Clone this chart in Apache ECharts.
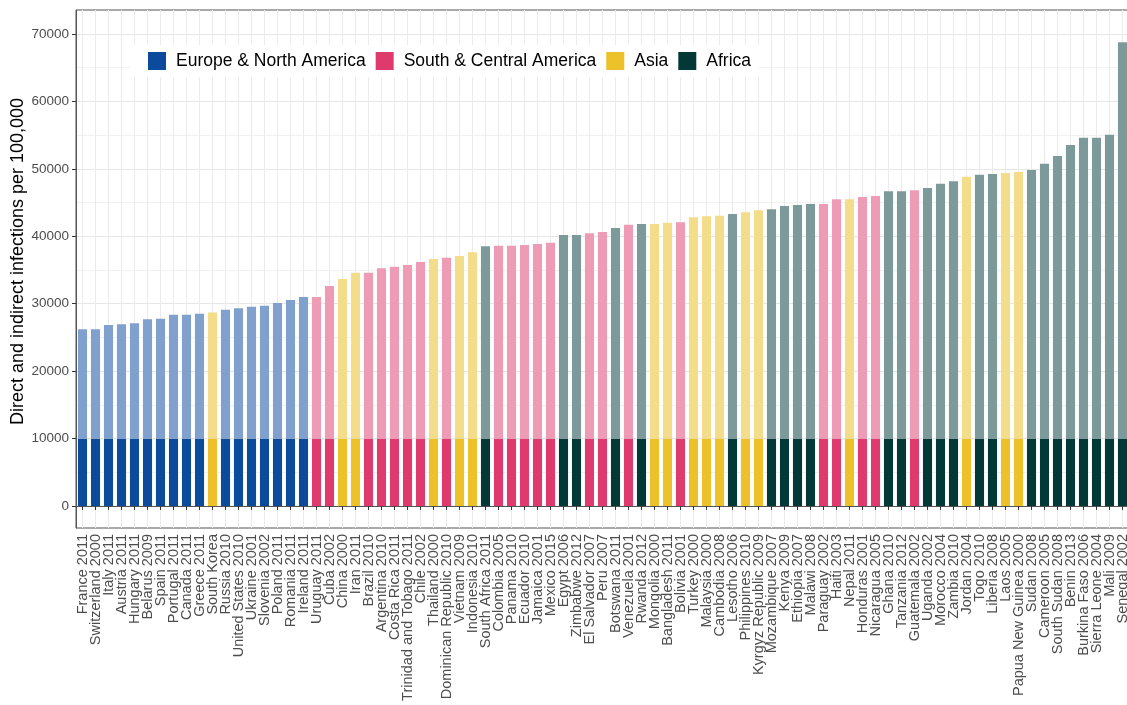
<!DOCTYPE html>
<html>
<head>
<meta charset="utf-8">
<script src="https://cdn.jsdelivr.net/npm/echarts@6/dist/echarts.min.js"></script>
<style>
  html, body { margin: 0; padding: 0; background: #fff; }
  #chart { width: 1127px; height: 705px; }
</style>
</head>
<body>
<div id="chart"></div>
<script>
const categories = [
  "France 2011","Switzerland 2000","Italy 2011","Austria 2011","Hungary 2011","Belarus 2009",
  "Spain 2011","Portugal 2011","Canada 2011","Greece 2011","South Korea","Russia 2010",
  "United States 2010","Ukraine 2001","Slovenia 2002","Poland 2011","Romania 2011","Ireland 2011",
  "Uruguay 2011","Cuba 2002","China 2000","Iran 2011","Brazil 2010","Argentina 2010",
  "Costa Rica 2011","Trinidad and Tobago 2011","Chile 2002","Thailand 2000","Dominican Republic 2010","Vietnam 2009",
  "Indonesia 2010","South Africa 2011","Colombia 2005","Panama 2010","Ecuador 2010","Jamaica 2001",
  "Mexico 2015","Egypt 2006","Zimbabwe 2012","El Salvador 2007","Peru 2007","Botswana 2011",
  "Venezuela 2001","Rwanda 2012","Mongolia 2000","Bangladesh 2011","Bolivia 2001","Turkey 2000",
  "Malaysia 2000","Cambodia 2008","Lesotho 2006","Philippines 2010","Kyrgyz Republic 2009","Mozambique 2007",
  "Kenya 2009","Ethiopia 2007","Malawi 2008","Paraguay 2002","Haiti 2003","Nepal 2011",
  "Honduras 2001","Nicaragua 2005","Ghana 2010","Tanzania 2012","Guatemala 2002","Uganda 2002",
  "Morocco 2004","Zambia 2010","Jordan 2004","Togo 2010","Liberia 2008","Laos 2005",
  "Papua New Guinea 2000","Sudan 2008","Cameroon 2005","South Sudan 2008","Benin 2013","Burkina Faso 2006",
  "Sierra Leone 2004","Mali 2009","Senegal 2002"
];
// E = Europe & North America, S = South & Central America, A = Asia, F = Africa
const regionCodes = [
  "E","E","E","E","E","E","E","E","E","E","A","E",
  "E","E","E","E","E","E","S","S","A","A","S","S",
  "S","S","S","A","S","A","A","F","S","S","S","S",
  "S","F","F","S","S","F","S","F","A","A","S","A",
  "A","A","F","A","A","F","F","F","F","S","S","A",
  "S","S","F","F","S","F","F","F","A","F","F","A",
  "A","F","F","F","F","F","F","F","F"
];
const totalInfections = [
  26200,26200,26840,26940,27090,27680,27780,28380,28380,28530,28680,29120,
  29310,29560,29710,30110,30550,31000,31000,32630,33660,34600,34600,35250,
  35500,35740,36190,36630,36830,37080,37620,38510,38610,38610,38710,38860,
  39050,40190,40190,40440,40640,41230,41720,41820,41820,42020,42070,42810,
  42960,43060,43300,43550,43850,44000,44490,44640,44790,44790,45480,45480,
  45830,45970,46670,46670,46820,47160,47800,48150,48840,49140,49240,49390,
  49530,49830,50760,51900,53540,54630,54630,55070,68770
];
const directInfections = 10000;
const regionKeys = ["E","S","A","F"];
const regionNames = ["Europe & North America","South & Central America","Asia","Africa"];
const yTickValues = [0,10000,20000,30000,40000,50000,60000,70000];
const yMinorValues = [5000,15000,25000,35000,45000,55000,65000];

const darkColors = { E: "#0C4A9C", S: "#DE3A6D", A: "#EDC12A", F: "#023836" };
const lightColors = { E: "#80A1CE", S: "#EE9BB5", A: "#F3DC8A", F: "#7D9A9B" };

const font = "'Liberation Sans', Arial, sans-serif";
const series = [];
regionKeys.forEach((k, ri) => {
  series.push({
    name: regionNames[ri], type: "bar", stack: "total", xAxisIndex: 0, yAxisIndex: 0,
    barWidth: "70%",
    itemStyle: { color: darkColors[k] },
    data: categories.map((c, i) => regionCodes[i] === k ? directInfections : null)
  });
});
regionKeys.forEach((k, ri) => {
  series.push({
    name: regionNames[ri], type: "bar", stack: "total", xAxisIndex: 0, yAxisIndex: 0,
    barWidth: "70%",
    itemStyle: { color: lightColors[k] },
    data: categories.map((c, i) => regionCodes[i] === k ? totalInfections[i] - directInfections : null)
  });
});

const centers = categories.map((c, i) => i + 0.5);
const chart = echarts.init(document.getElementById("chart"), null, { renderer: "canvas" });
chart.setOption({
  animation: false,
  backgroundColor: "#fff",
  textStyle: { fontFamily: font },
  grid: { left: 76, top: 10, width: 1053, height: 518, show: true, borderColor: "#555", borderWidth: 1,
          backgroundColor: "transparent", containLabel: false, outerBoundsMode: "none" },
  legend: {
    data: regionNames,
    left: 131, top: 45,
    orient: "horizontal",
    backgroundColor: "#fff",
    padding: [7, 8, 7, 17],
    itemWidth: 18, itemHeight: 18, itemGap: 10,
    icon: "rect",
    selectedMode: false,
    textStyle: { fontSize: 17.5, color: "#000", fontFamily: font, padding: [2, 0, 0, 5] }
  },
  xAxis: [
    {
      type: "category", data: categories, boundaryGap: true, gridIndex: 0,
      axisLine: { show: true, lineStyle: { color: "#555", width: 1 } },
      axisTick: { show: true, alignWithLabel: true, interval: 0, length: 4, lineStyle: { color: "#333" } },
      axisLabel: { interval: 0, rotate: 90, margin: 6, fontSize: 14.5, color: "#4D4D4D", fontFamily: font },
      splitLine: { show: false }
    },
    {
      type: "value", min: 0, max: categories.length, gridIndex: 0, position: "top",
      axisLine: { show: false },
      axisLabel: { show: false },
      axisTick: { show: false, customValues: centers },
      splitLine: { show: true, lineStyle: { color: "#EBEBEB", width: 1 } }
    }
  ],
  yAxis: [
    {
      type: "value", min: -3263, max: 73560, gridIndex: 0,
      name: "Direct and indirect infections per 100,000",
      nameLocation: "middle", nameGap: 49, nameMoveOverlap: false,
      nameTextStyle: { fontSize: 18, color: "#000", fontFamily: font, padding: [0, 0, 0, 15] },
      axisLine: { show: true, lineStyle: { color: "#555" } },
      axisTick: { show: true, length: 4, customValues: yTickValues, lineStyle: { color: "#333" } },
      axisLabel: { customValues: yTickValues, margin: 7, fontSize: 13.5, color: "#4D4D4D", fontFamily: font, formatter: v => String(v) },
      splitLine: { show: true, lineStyle: { color: "#E6E6E6", width: 1 } }
    },
    {
      type: "value", min: -3263, max: 73560, gridIndex: 0, position: "right",
      axisLine: { show: false },
      axisLabel: { show: false },
      axisTick: { show: false, customValues: yMinorValues },
      splitLine: { show: true, lineStyle: { color: "#F1F1F1", width: 1 } }
    }
  ],
  series: series
});
</script>
</body>
</html>
